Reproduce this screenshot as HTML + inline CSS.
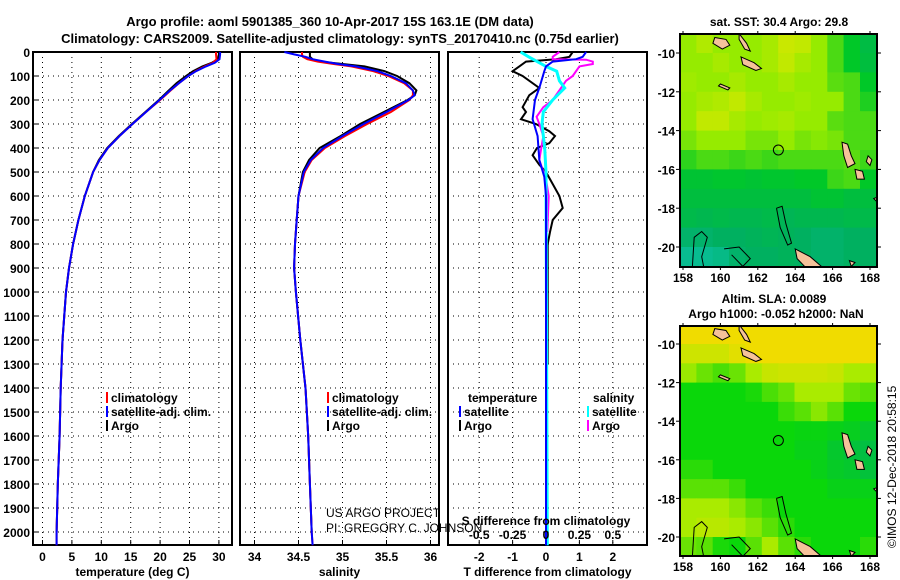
<!DOCTYPE html>
<html><head><meta charset="utf-8">
<style>
html,body{margin:0;padding:0;background:#fff;}
svg{display:block;font-family:"Liberation Sans",Arial,sans-serif;font-weight:bold;}
.t{font-size:13px;}
.s{font-size:12px;}
.n{font-size:12px;font-weight:normal;}
</style></head>
<body>
<svg id="root" width="900" height="580" viewBox="0 0 900 580" xmlns="http://www.w3.org/2000/svg">
<text class="t" x="330" y="26" text-anchor="middle">Argo profile: aoml 5901385_360 10-Apr-2017 15S 163.1E (DM data)</text>
<text class="t" x="340" y="43" text-anchor="middle">Climatology: CARS2009. Satellite-adjusted climatology: synTS_20170410.nc (0.75d earlier)</text>
<g id="g"></g>
</svg>
<script>
// ---- data ----
const depthT = [0,10,30,45,60,80,100,130,160,200,250,300,350,400,450,500,600,700,800,900,1000,1200,1400,1600,1800,2000,2055];
const climT  = [29.5,29.5,29.6,29.0,27.6,26.0,24.8,23.2,21.8,20.0,17.6,15.3,13.1,11.1,9.7,8.6,7.2,6.1,5.2,4.5,4.0,3.4,3.1,2.9,2.6,2.4,2.4];
const satT   = [30.2,30.2,30.1,29.3,27.8,26.1,24.8,23.2,21.7,19.9,17.6,15.3,13.1,11.1,9.7,8.6,7.2,6.1,5.2,4.5,4.0,3.4,3.1,2.9,2.6,2.4,2.4];
const argoT  = [30.0,30.0,29.8,28.8,27.2,25.6,24.4,22.8,21.5,19.8,17.5,15.2,13.0,11.0,9.6,8.6,7.2,6.1,5.2,4.5,4.0,3.4,3.1,2.9,2.6,2.4];
const depthS = [0,10,20,30,40,50,60,80,100,130,160,180,200,250,300,350,400,450,500,600,700,800,900,1000,1200,1400,1600,1800,2000,2055];
const climS  = [34.54,34.54,34.55,34.6,34.72,34.9,35.1,35.35,35.52,35.7,35.8,35.8,35.76,35.55,35.28,35.03,34.8,34.65,34.57,34.5,34.48,34.46,34.45,34.47,34.52,34.58,34.61,34.63,34.65,34.66];
const satS   = [34.34,34.45,34.58,34.66,34.8,34.95,35.15,35.4,35.55,35.72,35.8,35.82,35.75,35.5,35.24,35.0,34.78,34.64,34.56,34.5,34.48,34.46,34.45,34.47,34.52,34.58,34.61,34.63,34.65,34.66];
const argoS  = [34.63,34.63,34.63,34.66,34.75,35.0,35.25,35.48,35.62,35.76,35.84,35.82,35.74,35.47,35.2,34.98,34.74,34.62,34.55,34.5,34.48,34.46,34.45,34.47,34.52,34.58,34.61,34.63,34.65];
const depthArgoDT = [0,20,30,40,60,80,100,150,180,230,250,280,300,330,350,380,400,430,470,500,550,600,650,700,750,800,900,1000,1300];
const argoDT = [0.8,0.7,0.3,-0.6,-0.8,-1.0,-0.7,-0.2,-0.5,-0.7,-0.6,-0.75,-0.3,0.1,0.27,0.1,-0.27,-0.4,-0.2,0.0,0.2,0.4,0.5,0.2,0.12,0.05,0.05,0.05,0.05];
const depthSatDT = [0,20,30,40,60,80,150,200,280,350,450,520,600,2055];
const satDT = [1.2,1.1,0.9,0.2,0.0,-0.05,-0.2,-0.33,-0.4,-0.25,-0.2,-0.05,0.0,0.0];
const depthArgoDS = [0,20,30,32,40,50,60,100,120,200,230,270,300,350,450,530,600,750];
const argoDS = [0.1,0.05,0.05,0.3,0.35,0.35,0.25,0.2,0.15,0.05,-0.02,-0.07,-0.05,-0.02,-0.05,0.0,0.02,0.01];
const depthSatDS = [0,20,60,80,120,150,200,250,300,400,500,2055];
const satDS = [-0.19,-0.13,0.0,0.08,0.1,0.14,0.05,-0.02,-0.03,-0.01,0.0,0.01];
const depthTicks = [0,100,200,300,400,500,600,700,800,900,1000,1100,1200,1300,1400,1500,1600,1700,1800,1900,2000];
const tempTicks = [0,5,10,15,20,25,30];
const salTicks = [34,34.5,35,35.5,36];
const salTickLabels = ["34","34.5","35","35.5","36"];
const dtTicks = [-2,-1,0,1,2];
const dsTicks = [-0.5,-0.25,0,0.25,0.5];
const dsTickLabels = ["-0.5","-0.25","0","0.25","0.5"];
const lonTicks = [158,160,162,164,166,168];
const latTicks = [-10,-12,-14,-16,-18,-20];
const sstGrid = [
[3,3.3,3,3,3,3.2,3.6,3.5,3,2.5,2,1.5],
[3,3,3.2,3,3,3.2,3.5,3.2,3,2.5,2,1.6],
[3.1,3,3,3.2,3,3,3.2,3,3,2.6,2.5,2],
[3,3.2,3.3,3.5,3.2,3,3,3.1,3,3,2.5,2.2],
[3,3.5,3.5,3.2,3,3.1,3.2,3,3,2.6,2.5,2.5],
[2.8,3,3,3,2.8,2.8,3,2.8,2.9,2.8,2.5,2.5],
[2.3,2.5,2.5,2.4,2.5,2.4,2.5,2.5,2.5,2.5,2.6,2.4],
[1.8,1.8,1.9,1.9,1.8,1.9,1.9,2,2,2.4,2.5,2],
[1.6,1.6,1.6,1.6,1.6,1.6,1.6,1.6,1.8,1.8,1.6,1.6],
[1.4,1.3,1.4,1.3,1.3,1.4,1.2,1.3,1.3,1.3,1.4,1.4],
[0.9,0.9,1,1,1.1,1.2,1.1,1,0.9,0.9,1,1],
[0.5,0.5,0.6,0.9,1,1,1.1,1,0.9,0.9,1,1]];
const slaGrid = [
[4,4,4,4,4,4,4,4,4,4,4,4],
[3.5,3.5,3.5,3.8,4,4,4,4,4,4,4,4],
[2.9,2.6,2.4,2.6,3,3.4,3.5,3.5,3.5,3.4,3,3],
[2,2,2,2,2.1,2.4,2.6,3,3,3,2.6,2.5],
[2,2,2,2,2,2,2.3,2.5,2.8,2.5,2,2],
[2,2,2,2,2,2,2,1.9,1.9,1.8,1.7,1.5],
[2,2,2,2,2,2,2,1.8,1.8,1.5,1.3,1.2],
[2.2,2.2,2,2,2,2,2,2,1.8,1.6,1.5,1.3],
[2.5,2.5,2.5,2.3,2,2,2,2,2,1.8,1.8,1.8],
[3,3,3,2.8,2.5,2.3,2,2,2,2,2,2],
[3,3.2,3.2,3,2.8,2.5,2.2,2,2,2,2,2],
[2.6,2.5,2.1,2,2.5,3,2.5,2.2,2,2,2,2.2]];

const NS="http://www.w3.org/2000/svg";
const G=document.getElementById('g');
function mk(tag,attrs,parent){const e=document.createElementNS(NS,tag);for(const k in attrs)e.setAttribute(k,attrs[k]);(parent||G).appendChild(e);return e;}
function txt(x,y,s,cls,anchor,parent){const e=mk('text',{x:x,y:y,class:cls||'s','text-anchor':anchor||'middle'},parent);e.textContent=s;return e;}

const yD = d => 52 + d*0.24;
const PB = 545;
const panels = [
 {x0:33,x1:232,f:v=>42.5+5.88*v,ticks:tempTicks,labels:tempTicks.map(String),title:"temperature (deg C)",name:"temperature-panel"},
 {x0:240,x1:439,f:v=>254.5+88*(v-34),ticks:salTicks,labels:salTickLabels,title:"salinity",name:"salinity-panel"},
 {x0:448,x1:647,f:v=>546+33.4*v,ticks:dtTicks,labels:dtTicks.map(String),title:"T difference from climatology",name:"difference-panel"}
];
const fS = v=>546+133.6*v;

panels.forEach((p,i)=>{
  const g=mk('g',{});
  
  
  depthTicks.forEach(d=>{ if(d>0){const l=mk('line',{x1:p.x0,x2:p.x1,y1:yD(d),y2:yD(d),stroke:'#000','stroke-width':1,'stroke-dasharray':'1,4'},g);
     }});
  p.ticks.forEach((t,j)=>{const x=p.f(t);
    const l=mk('line',{x1:x,x2:x,y1:52,y2:PB,stroke:'#000','stroke-width':1,'stroke-dasharray':'1,4'},g);
     
    mk('line',{x1:x,x2:x,y1:PB,y2:PB-5,stroke:'#000'},g);
    const tl=txt(x,561,p.labels[j],'s','middle',g);
     
  });
  const xt=txt((p.x0+p.x1)/2,576,p.title,'s','middle',g);
   
  const fr=mk('rect',{x:p.x0,y:52,width:p.x1-p.x0,height:PB-52,fill:'none',stroke:'#000','stroke-width':2},g);
   
});
depthTicks.forEach(d=>{const t=txt(30,yD(d)+5,String(d),'s','end');
   
  mk('line',{x1:33,x2:38,y1:yD(d),y2:yD(d),stroke:'#000'});});

function series(depths,vals,f,color,name,w){
  const pts=vals.map((v,i)=>f(v).toFixed(1)+','+yD(depths[i]).toFixed(1)).join(' ');
  const e=mk('polyline',{points:pts,fill:'none',stroke:color,'stroke-width':w||2,'stroke-linejoin':'miter'});
  
  
}
const P=panels;
series(depthT,argoT,P[0].f,'#000','temperature-argo-line');
series(depthT,climT,P[0].f,'#f00','temperature-climatology-line');
series(depthT,satT,P[0].f,'#00f','temperature-satellite-line');
series(depthS,argoS,P[1].f,'#000','salinity-argo-line');
series(depthS,climS,P[1].f,'#f00','salinity-climatology-line');
series(depthS,satS,P[1].f,'#00f','salinity-satellite-line');
series(depthArgoDT,argoDT,P[2].f,'#000','t-diff-argo-line');
series(depthArgoDS,argoDS,fS,'#f0f','s-diff-argo-line');
series(depthSatDS,satDS,fS,'#0ff','s-diff-satellite-line',3);
series(depthSatDT,satDT,P[2].f,'#00f','t-diff-satellite-line');

const sl=txt(546,525,'S difference from climatology','s','middle');
 
dsTicks.forEach((t,j)=>{const e=txt(fS(t),539,dsTickLabels[j],'s','middle');
   });

function leg(x,y,color,label,name){
  mk('rect',{x:x,y:y-10,width:2,height:11,fill:color});
  const t=txt(x+5,y,label,'s','start');
  
  
}
leg(106,402,'#f00','climatology','legend-temp-climatology');
leg(106,416,'#00f','satellite-adj. clim.','legend-temp-satellite');
leg(106,430,'#000','Argo','legend-temp-argo');
leg(327,402,'#f00','climatology','legend-sal-climatology');
leg(327,416,'#00f','satellite-adj. clim.','legend-sal-satellite');
leg(327,430,'#000','Argo','legend-sal-argo');
const lt=txt(468,402,'temperature','s','start');  
const ls=txt(593,402,'salinity','s','start');  
leg(459,416,'#00f','satellite','legend-tdiff-satellite');
leg(459,430,'#000','Argo','legend-tdiff-argo');
leg(587,416,'#0ff','satellite','legend-sdiff-satellite');
leg(587,430,'#f0f','Argo','legend-sdiff-argo');
const c1=txt(326,517,'US ARGO PROJECT','n','start');  
const c2=txt(326,532,'PI: GREGORY C. JOHNSON','n','start');  

// ---- maps ----
function lerp(a,b,t){return a+(b-a)*t;}
function pal(v,stops){v=Math.max(0,Math.min(stops.length-1,v));const i=Math.min(stops.length-2,Math.floor(v));const t=v-i;
  const a=stops[i],b=stops[i+1];return 'rgb('+[0,1,2].map(k=>Math.round(lerp(a[k],b[k],t))).join(',')+')';}
const sstStops=[[16,200,192],[0,176,96],[0,200,40],[150,235,0],[235,230,0]];
const slaStops=[[16,200,192],[0,185,80],[10,215,10],[170,235,0],[240,220,0]];
function drawMap(m){
  const g=mk('g',{});
  
  
  const lx=lon=>683+(lon-158)*18.7;
  const ly=lat=>m.y10+(-10-lat)*m.dy;
  const clipId='clip'+m.name;
  const cp=mk('clipPath',{id:clipId},g); mk('rect',{x:680,y:m.top,width:197,height:m.bot-m.top},cp);
  const cg=mk('g',{'clip-path':'url(#'+clipId+')'},g);
  m.grid.forEach((row,r)=>row.forEach((v,c)=>{
    const x0=lx(158+c*0.875)-3, x1=lx(158+(c+1)*0.875)-3;
    const y0=ly(-9-r), y1=ly(-10-r);
    const cell=mk('rect',{x:x0.toFixed(1),y:y0.toFixed(1),width:(x1-x0+0.6).toFixed(1),height:(y1-y0+0.6).toFixed(1),fill:pal(v,m.stops)},cg);
    
    
  }));
  const isl=[
   [[159.7,-9.2],[160.3,-9.3],[160.5,-9.6],[160.1,-9.8],[159.6,-9.5]],
   [[161.0,-9.0],[161.4,-9.5],[161.6,-9.9],[161.3,-9.8],[161.0,-9.3]],
   [[161.1,-10.2],[161.8,-10.5],[162.2,-10.8],[161.9,-10.9],[161.2,-10.6]],
   [[160.0,-11.6],[160.5,-11.8],[160.4,-11.9],[159.9,-11.7]],
   [[166.5,-14.6],[166.8,-14.7],[167.0,-15.3],[167.2,-15.7],[166.8,-15.9],[166.6,-15.3]],
   [[167.2,-16.0],[167.6,-16.1],[167.7,-16.5],[167.3,-16.5]],
   [[167.9,-15.3],[168.1,-15.5],[168.0,-15.8],[167.8,-15.6]],
   [[168.2,-17.5],[168.5,-17.4],[168.5,-17.8]],
   [[164.0,-20.1],[164.8,-20.5],[165.4,-21.0],[164.6,-21.1],[164.1,-20.6]],
   [[166.9,-20.7],[167.2,-20.8],[167.0,-21.0]]
  ];
  isl.forEach(poly=>{const e=mk('polygon',{points:poly.map(p=>lx(p[0]).toFixed(1)+','+ly(p[1]).toFixed(1)).join(' '),fill:'#f5c29a',stroke:'#000','stroke-width':1},cg);
     });
  const cont=[
   [[158.5,-21],[158.6,-19.5],[159.0,-19.2],[159.3,-19.5],[159.0,-20.5],[159.1,-21]],
   [[163.0,-18.0],[163.3,-17.9],[163.5,-18.8],[163.8,-19.8],[163.6,-19.9],[163.2,-19.0],[163.0,-18.0]],
   [[160.2,-20.1],[161.0,-20.0],[161.6,-20.6],[161.2,-21],[160.6,-20.4]]
  ];
  cont.forEach(poly=>{const e=mk('polyline',{points:poly.map(p=>lx(p[0]).toFixed(1)+','+ly(p[1]).toFixed(1)).join(' '),fill:'none',stroke:'#000','stroke-width':1},cg);
     });
  const c=mk('circle',{cx:lx(163.1),cy:ly(-15),r:5,fill:'none',stroke:'#000','stroke-width':1},g);
   
  const fr=mk('rect',{x:680,y:m.top,width:197,height:m.bot-m.top,fill:'none',stroke:'#000','stroke-width':2},g);
   
  lonTicks.forEach(l=>{mk('line',{x1:lx(l),x2:lx(l),y1:m.bot,y2:m.bot+3,stroke:'#000'},g);mk('line',{x1:lx(l),x2:lx(l),y1:m.top,y2:m.top-3,stroke:'#000'},g);
    const t=txt(lx(l),m.bot+15,String(l),'s','middle',g);
     });
  latTicks.forEach(l=>{mk('line',{x1:877,x2:881,y1:ly(l),y2:ly(l),stroke:'#000'},g);mk('line',{x1:676,x2:680,y1:ly(l),y2:ly(l),stroke:'#000'},g);
    const t=txt(675,ly(l)+5,String(l),'s','end',g);
     });
}
drawMap({name:'sst-map',grid:sstGrid,stops:sstStops,top:34,bot:267,y10:53,dy:19.4});
drawMap({name:'sla-map',grid:slaGrid,stops:slaStops,top:326,bot:556,y10:344,dy:19.3});
const m1=txt(779,26,'sat. SST: 30.4 Argo: 29.8','s','middle');  
const m2=txt(774,303,'Altim. SLA: 0.0089','s','middle');  
const m3=txt(776,318,'Argo h1000: -0.052 h2000: NaN','s','middle');  
const rt=mk('text',{x:0,y:0,class:'n','text-anchor':'start',transform:'translate(896,548) rotate(-90)'});
rt.textContent='©IMOS 12-Dec-2018 20:58:15';


</script>
</body></html>
